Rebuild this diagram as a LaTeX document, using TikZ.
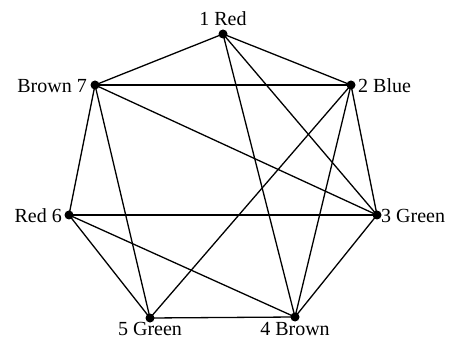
\documentclass[tikz,border=0pt]{standalone}
\usepackage{fontspec}
\setmainfont{Liberation Serif}
\begin{document}
\begin{tikzpicture}[x=1pt,y=-1pt,
  vtx/.style={circle,fill=black,inner sep=0pt,minimum size=9pt},
  lbl/.style={font=\fontsize{20}{22}\selectfont,inner sep=1pt},
  edge/.style={line width=1.3pt}]
\useasboundingbox (0,0) rectangle (452,347);
\node[vtx] (n1) at (223,34) {};
\node[vtx] (n2) at (351,85) {};
\node[vtx] (n3) at (377,215) {};
\node[vtx] (n4) at (295,317) {};
\node[vtx] (n5) at (150,318) {};
\node[vtx] (n6) at (69,215) {};
\node[vtx] (n7) at (95,85) {};
\node[lbl,anchor=south] (l1) at (223,27) {1 Red};
\node[lbl,anchor=west] (l2) at (357,86) {2 Blue};
\node[lbl,anchor=west] (l3) at (380,216) {3 Green};
\node[lbl,anchor=north] (l4) at (295,321) {4 Brown};
\node[lbl,anchor=north] (l5) at (150,321) {5 Green};
\node[lbl,anchor=east] (l6) at (63,216) {Red 6};
\node[lbl,anchor=east] (l7) at (88,86) {Brown 7};
\foreach \a/\b in {n1/n2,n1/n7,n1/n3,n1/n4,n2/n7,n2/n3,n2/n4,n2/n5,n3/n7,n3/n6,n3/n4,n4/n5,n4/n6,n5/n6,n5/n7,n6/n7}
  \draw[edge] (\a.center) -- (\b.center);
\end{tikzpicture}
\end{document}
